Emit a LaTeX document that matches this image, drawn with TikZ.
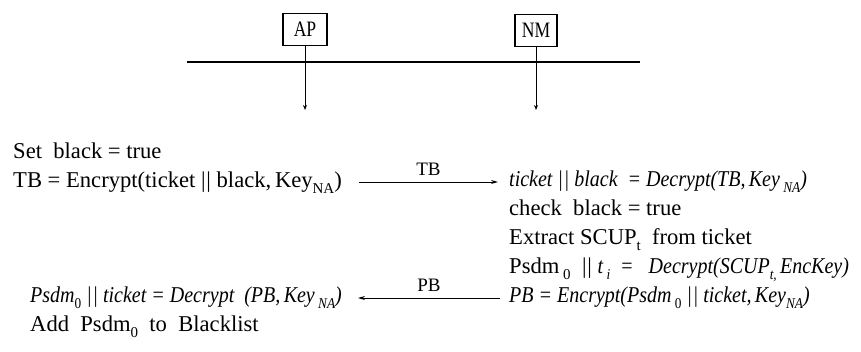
\documentclass[tikz,border=0pt]{standalone}
\usepackage{fontspec}
\setmainfont{Liberation Serif}
\usetikzlibrary{arrows.meta}
\newcommand\sbs[1]{\raisebox{-0.3em}{\fontsize{15}{15}\selectfont #1}}
\newcommand\dbar{\textbar\kern0.04em\textbar}
\newcommand\itx[1]{\scalebox{0.885}[1]{\fontsize{22.6}{24}\selectfont\itshape #1}}
\begin{document}
\begin{tikzpicture}[x=1pt,y=-1pt,
  txt/.style={anchor=base west,inner sep=0pt,font=\fontsize{22.6}{26}\selectfont},
  ent/.style={draw,line width=1.3pt,minimum height=32pt,inner sep=0pt,font=\fontsize{22}{26}\selectfont},
  life/.style={line width=0.9pt,-{Stealth[length=5pt,width=4pt]}},
  msg/.style={line width=1pt,-{Stealth[length=7pt,width=4pt]}},
  lbl/.style={inner sep=0pt,font=\fontsize{19}{22}\selectfont}]
\useasboundingbox (0,0) rectangle (861,351);
% entities
\node[ent,minimum width=44pt] (ap) at (305,29.5) {\scalebox{0.8}[1]{AP}};
\node[ent,minimum width=42pt] (nm) at (536,30.5) {\scalebox{0.8}[1]{NM}};
\coordinate (busl) at (187,62);
\coordinate (busr) at (640,62);
\draw[line width=1.2pt] (busl) -- (busr);
\coordinate (apend) at (305,110);
\coordinate (nmend) at (536,110);
\draw[life] (ap.south) -- (apend);
\draw[life] (nm.south) -- (nmend);
% left side
\node[txt] (set) at (13,158) {Set\ \ black = true};
\node[txt] (tb) at (13,187) {TB = Encrypt(ticket \dbar\ black,\,Key\sbs{NA})};
\node[txt] (l1) at (30,302) {\itx{Psdm\sbs{\upshape 0}\ \dbar\ ticket = Decrypt\ \ (PB,\,Key\,\sbs{NA})}};
\node[txt] (l2) at (30,331) {Add\ \ Psdm\sbs{0}\ \ to\ \ Blacklist};
% right side
\node[txt] (r1) at (509,186) {\itx{ticket \dbar\ black \ = Decrypt(TB,\,Key\,\sbs{NA})}};
\node[txt] (r2) at (509,215) {check\ \ black = true};
\node[txt] (r3) at (509,244) {Extract SCUP\sbs{t}\ \ from ticket};
\node[txt] (r4) at (509,273) {Psdm\,\sbs{0}\ \ \dbar\ \itx{t\,\sbs{i}\ \ = \ \ Decrypt(SCUP\sbs{t,}\,EncKey)}};
\node[txt] (r5) at (509,302) {\itx{PB = Encrypt(Psdm\,\sbs{\upshape 0}\ \dbar\ ticket,\,Key\sbs{NA})}};
% messages
\coordinate (tbs) at (359,182);
\coordinate (tbe) at (498,182);
\draw[msg] (tbs) -- node[lbl,above=6pt] (tbl) {TB} (tbe);
\coordinate (pbs) at (500,298);
\coordinate (pbe) at (358,298);
\draw[msg] (pbs) -- node[lbl,above=6pt] (pbl) {PB} (pbe);
\end{tikzpicture}
\end{document}
